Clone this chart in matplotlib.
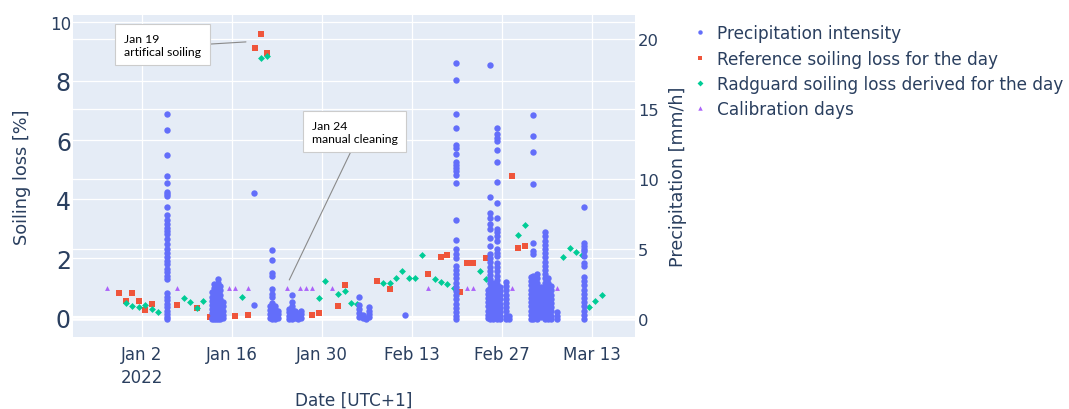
import matplotlib
matplotlib.use('Agg')
import matplotlib.pyplot as plt
import matplotlib.dates as mdates
from matplotlib.lines import Line2D
import pandas as pd

plt.rcParams['font.family'] = ['DejaVu Sans']

# daily soiling loss of the reference cell [%]
ref_days = ['2021-12-29', '2021-12-30', '2021-12-31', '2022-01-01', '2022-01-02',
            '2022-01-03', '2022-01-07', '2022-01-10', '2022-01-12', '2022-01-16',
            '2022-01-18', '2022-01-19', '2022-01-20', '2022-01-21', '2022-01-28',
            '2022-01-29', '2022-02-01', '2022-02-02', '2022-02-07', '2022-02-09',
            '2022-02-15', '2022-02-17', '2022-02-18', '2022-02-20', '2022-02-21',
            '2022-02-22', '2022-02-24', '2022-02-28', '2022-03-01', '2022-03-02']
ref_loss = [0.82, 0.57, 0.84, 0.56, 0.25, 0.47, 0.42, 0.32, 0.0, 0.05,
            0.08, 9.11, 9.58, 8.93, 0.10, 0.15, 0.38, 1.11, 1.22, 0.96,
            1.48, 2.05, 2.12, 0.86, 1.83, 1.83, 2.02, 4.79, 2.36, 2.43]

# daily soiling loss derived from the Radguard sensor [%]
rad_days = ['2021-12-30', '2021-12-31', '2022-01-01', '2022-01-02', '2022-01-03',
            '2022-01-04', '2022-01-08', '2022-01-09', '2022-01-10', '2022-01-11',
            '2022-01-17', '2022-01-20', '2022-01-21', '2022-01-29', '2022-01-30',
            '2022-02-01', '2022-02-02', '2022-02-03', '2022-02-04', '2022-02-08',
            '2022-02-09', '2022-02-10', '2022-02-11', '2022-02-12', '2022-02-13',
            '2022-02-14', '2022-02-16', '2022-02-17', '2022-02-18', '2022-02-19',
            '2022-02-23', '2022-02-24', '2022-03-01', '2022-03-02', '2022-03-08',
            '2022-03-09', '2022-03-10', '2022-03-11', '2022-03-12', '2022-03-13',
            '2022-03-14']
rad_loss = [0.49, 0.38, 0.37, 0.43, 0.29, 0.18, 0.65, 0.51, 0.32, 0.55,
            0.68, 8.76, 8.85, 0.65, 1.22, 0.81, 0.88, 0.48, 0.45, 1.16,
            1.16, 1.35, 1.57, 1.35, 1.35, 2.12, 1.31, 1.21, 1.13, 0.99,
            1.56, 1.30, 2.80, 3.13, 2.03, 2.34, 2.22, 2.12, 0.34, 0.56,
            0.76]

# calibration days, marked at 1 %
calib_days = ['2021-12-27', '2022-01-07', '2022-01-15', '2022-01-16', '2022-01-18',
              '2022-01-24', '2022-01-26', '2022-01-27', '2022-01-28', '2022-01-31',
              '2022-02-15', '2022-02-21', '2022-02-22', '2022-02-28', '2022-03-03',
              '2022-03-07']
calib_level = [1.0, 1.0, 1.0, 1.0, 1.0, 1.0, 1.0, 1.0, 1.0, 1.0, 1.0, 1.0, 1.0, 1.0, 1.0, 1.0]

# precipitation intensity [mm/h], readings grouped by time stamp
rain_times = ['2022-01-05 22:20',
              '2022-01-12 19:30', '2022-01-13 03:00', '2022-01-13 12:15',
              '2022-01-13 21:30', '2022-01-14 04:50', '2022-01-14 12:30',
              '2022-01-19 10:05',
              '2022-01-21 21:50', '2022-01-22 05:15', '2022-01-22 16:20', '2022-01-23 02:30',
              '2022-01-24 20:40', '2022-01-25 09:00', '2022-01-25 19:00',
              '2022-01-26 06:15', '2022-01-26 17:30',
              '2022-02-04 19:10', '2022-02-05 07:00', '2022-02-05 18:15', '2022-02-06 08:25',
              '2022-02-11 20:40',
              '2022-02-19 20:00',
              '2022-02-24 17:30', '2022-02-25 03:00', '2022-02-25 15:10', '2022-02-26 04:00',
              '2022-02-26 16:20', '2022-02-27 13:30', '2022-02-28 02:00',
              '2022-03-03 10:00', '2022-03-03 20:40', '2022-03-04 10:20', '2022-03-04 23:30',
              '2022-03-05 16:05', '2022-03-06 04:30', '2022-03-06 14:40', '2022-03-07 14:10',
              '2022-03-11 17:45']
rain_rates = [
    [14.6, 13.5, 11.7, 10.2, 9.7, 9.1, 8.95, 8.8, 8.0, 7.4, 7.1, 6.8, 6.5, 6.25, 6.05,
     5.7, 5.35, 5.0, 4.75, 4.4, 4.15, 3.9, 3.6, 3.35, 3.1, 2.85, 1.85, 1.6, 1.35, 1.1,
     0.85, 0.6, 0.35, 0.12, 0.0],
    [1.9, 1.6, 1.3, 1.0, 0.7, 0.4, 0.1, 0.0],
    [2.5, 2.2, 1.9, 1.6, 1.3, 1.0, 0.7, 0.4, 0.15, 0.0],
    [2.0, 1.75, 1.45, 1.15, 0.85, 0.55, 0.25, 0.0],
    [2.85, 2.6, 2.3, 2.0, 1.7, 1.4, 1.1, 0.8, 0.5, 0.2, 0.0],
    [2.35, 2.05, 1.75, 1.45, 1.15, 0.85, 0.55, 0.25, 0.0],
    [1.2, 0.9, 0.6, 0.3, 0.05],
    [9.0, 1.0],
    [0.95, 0.65, 0.35, 0.1],
    [4.9, 4.2, 3.27, 3.08, 2.18, 1.78, 1.61, 1.14, 0.95, 0.72, 0.48, 0.25, 0.02],
    [0.95, 0.7, 0.45, 0.2, 0.0],
    [0.6, 0.35, 0.1],
    [0.75, 0.5, 0.25, 0.0],
    [1.71, 1.19, 0.95, 0.7, 0.45, 0.2, 0.0],
    [0.6, 0.35, 0.1],
    [0.45, 0.2, 0.0],
    [0.6, 0.35, 0.1],
    [1.59, 1.0, 0.71, 0.43, 0.12],
    [0.3, 0.05],
    [0.1, 0.0],
    [0.88, 0.6, 0.36, 0.12],
    [0.28],
    [18.27, 17.08, 14.66, 13.66, 12.4, 12.22, 11.76, 11.2, 11.03, 10.8, 10.56, 10.27,
     9.7, 7.1, 5.67, 5.0, 4.65, 4.33, 3.79, 3.5, 3.2, 2.9, 2.6, 2.3, 2.0, 1.7, 1.4,
     1.1, 0.8, 0.5, 0.2, 0.0],
    [2.1, 1.8, 1.5, 1.2, 0.9, 0.6, 0.3, 0.05],
    [18.15, 8.71, 7.54, 7.24, 6.76, 6.41, 5.77, 5.22, 4.63, 4.35, 4.05, 3.75, 3.45,
     3.15, 2.85, 2.55, 2.25, 1.95, 1.65, 1.35, 1.05, 0.75, 0.45, 0.15, 0.0],
    [2.6, 2.3, 2.0, 1.7, 1.4, 1.1, 0.8, 0.5, 0.2, 0.0],
    [13.64, 13.22, 12.93, 12.69, 12.1, 11.2, 9.77, 8.26, 7.19, 6.46, 6.2, 5.93, 5.57,
     4.98, 4.75, 4.51, 4.03, 3.7, 3.4, 3.1, 2.8, 2.5, 2.2, 1.9, 1.6, 1.3, 1.0, 0.7,
     0.4, 0.1, 0.0],
    [2.28, 2.0, 1.7, 1.4, 1.1, 0.8, 0.5, 0.2, 0.0],
    [2.65, 2.35, 2.05, 1.75, 1.45, 1.15, 0.85, 0.55, 0.25, 0.0],
    [0.24, 0.0],
    [3.0, 2.7, 2.4, 2.1, 1.8, 1.5, 1.2, 0.9, 0.6, 0.3, 0.0],
    [14.59, 13.1, 11.91, 9.61, 5.41, 4.86, 4.63, 3.08, 2.8, 2.5, 2.2, 1.9, 1.6, 1.3,
     1.0, 0.7, 0.4, 0.1, 0.0],
    [3.2, 2.9, 2.6, 2.3, 2.0, 1.7, 1.4, 1.1, 0.8, 0.5, 0.2, 0.0],
    [2.26, 1.95, 1.65, 1.35, 1.05, 0.75, 0.45, 0.15],
    [6.2, 5.9, 5.6, 5.3, 5.0, 4.7, 4.4, 4.1, 3.8, 3.5, 3.2, 2.9, 2.6, 2.3, 2.0, 1.7,
     1.4, 1.1, 0.8, 0.5, 0.2, 0.0],
    [2.9, 2.6, 2.3, 2.0, 1.7, 1.4, 1.1, 0.8, 0.5, 0.2, 0.0],
    [2.37, 2.05, 1.75, 1.45, 1.15, 0.85, 0.55, 0.25, 0.0],
    [0.47, 0.2, 0.0],
    [8.0, 5.46, 5.22, 4.98, 4.86, 4.5, 4.03, 3.79, 2.97, 2.7, 2.4, 2.1, 1.8, 1.5, 1.2,
     0.9, 0.6, 0.3, 0.0],
]

date_ticks = ['2022-01-02', '2022-01-16', '2022-01-30', '2022-02-13', '2022-02-27', '2022-03-13']
date_labels = ['Jan 2\n2022', 'Jan 16', 'Jan 30', 'Feb 13', 'Feb 27', 'Mar 13']

BLUE, RED, GREEN, PURPLE = '#636EFA', '#EF553B', '#00CC96', '#AB63FA'
TXT = '#2a3f5f'

# daily values sit in the middle of their day
noon = pd.Timedelta(hours=12)
ref_x = pd.to_datetime(ref_days) + noon
rad_x = pd.to_datetime(rad_days) + noon
calib_x = pd.to_datetime(calib_days) + noon

rain_x, rain_y = [], []
for t, rates in zip(rain_times, rain_rates):
    for r in rates:
        rain_x.append(pd.Timestamp(t))
        rain_y.append(r)

fig = plt.figure(figsize=(10.69, 4.10), dpi=100)
ax = fig.add_axes([73 / 1069, 72 / 410, 562 / 1069, 322 / 410])
ax.set_facecolor('#E5ECF6')
ax2 = ax.twinx()

ax.set_xlim(pd.Timestamp('2021-12-22 06:30'), pd.Timestamp('2022-03-19 16:00'))
ax.set_ylim(-0.66, 10.23)
ax2.set_ylim(-1.28, 21.7)

for a in (ax, ax2):
    for s in a.spines.values():
        s.set_visible(False)
    a.set_axisbelow(True)

ax.grid(True, color='white', lw=0.9)
ax2.grid(True, axis='y', color='white', lw=0.9)
ax.axhline(0, color='white', lw=1.6, zorder=0.6)
ax2.axhline(0, color='white', lw=1.8, zorder=0.6)

# soiling traces go on the top axes too (left-axis coordinates), so the
# right-axis grid stays underneath every marker
ax2.plot(calib_x, calib_level, ls='none', marker='^', ms=3.5, color=PURPLE,
         mew=0, transform=ax.transData, zorder=2)
ax2.plot(ref_x, ref_loss, ls='none', marker='s', ms=3.9, color=RED,
         mew=0, transform=ax.transData, zorder=2.1)
ax2.plot(rad_x, rad_loss, ls='none', marker='D', ms=3.5, color=GREEN,
         mew=0, transform=ax.transData, zorder=2.2)
ax2.plot(rain_x, rain_y, ls='none', marker='o', ms=4.6, color=BLUE, mew=0, zorder=3)

ax.set_xticks(pd.to_datetime(date_ticks))
ax.set_xticklabels(date_labels)
ax.tick_params(axis='x', length=0, pad=6, labelsize=12, colors=TXT)
ax.get_xticklabels()[0].set_linespacing(1.3)

ax.set_yticks([0, 2, 4, 6, 8, 10])
ax.set_yticklabels(['0', '2', '4', '6', '8', '10'])
ax.tick_params(axis='y', length=0, pad=1.5, colors=TXT)
for lab in ax.get_yticklabels():
    lab.set_fontsize(17)
ax.get_yticklabels()[-1].set_fontsize(12)

ax2.set_yticks([0, 5, 10, 15, 20])
ax2.tick_params(axis='y', length=0, pad=2, labelsize=11.8, colors=TXT)

ax.set_ylabel('Soiling loss [%]', fontsize=12.8, color=TXT)
ax.yaxis.set_label_coords(-0.074, 0.5)
ax2.set_ylabel('Precipitation [mm/h]', fontsize=12.6, color=TXT)
ax2.yaxis.set_label_coords(1.061, 0.5)
ax.set_xlabel('Date [UTC+1]', fontsize=12.2, color=TXT, va='top')
ax.xaxis.set_label_coords(0.5, -0.168)

box = dict(boxstyle='square,pad=0.7', fc='white', ec='#cccccc', lw=0.8)
ax2.annotate('Jan 19\nartifical soiling',
             xy=(mdates.date2num(pd.Timestamp('2022-01-18 04:00')), 9.32),
             xycoords=ax.transData, xytext=(0.0907, 0.908), textcoords='axes fraction',
             ha='left', va='center', fontsize=8.8, family='Lato', color='black',
             bbox=box, zorder=5,
             arrowprops=dict(arrowstyle='-', color='#8a8a8a', lw=0.8,
                             relpos=(1, 0.5), shrinkA=0, shrinkB=0))
ax2.annotate('Jan 24\nmanual cleaning',
             xy=(mdates.date2num(pd.Timestamp('2022-01-24 21:40')), 1.27),
             xycoords=ax.transData, xytext=(0.4247, 0.637), textcoords='axes fraction',
             ha='left', va='center', fontsize=8.8, family='Lato', color='black',
             bbox=box, zorder=5,
             arrowprops=dict(arrowstyle='-', color='#8a8a8a', lw=0.8,
                             relpos=(0.5, 0), shrinkA=0, shrinkB=0))

handles = [
    Line2D([], [], ls='none', marker='o', ms=3.2, color=BLUE, mew=0),
    Line2D([], [], ls='none', marker='s', ms=3.2, color=RED, mew=0),
    Line2D([], [], ls='none', marker='D', ms=3.0, color=GREEN, mew=0),
    Line2D([], [], ls='none', marker='^', ms=3.2, color=PURPLE, mew=0),
]
labels = ['Precipitation intensity', 'Reference soiling loss for the day',
          'Radguard soiling loss derived for the day', 'Calibration days']
fig.legend(handles, labels, loc='upper left', bbox_to_anchor=(0.647, 0.938),
           frameon=False, fontsize=12.2, handlelength=1.0, handletextpad=0.5,
           labelspacing=0.42, borderpad=0, borderaxespad=0, labelcolor=TXT)

fig.savefig('out.png', dpi=100)
